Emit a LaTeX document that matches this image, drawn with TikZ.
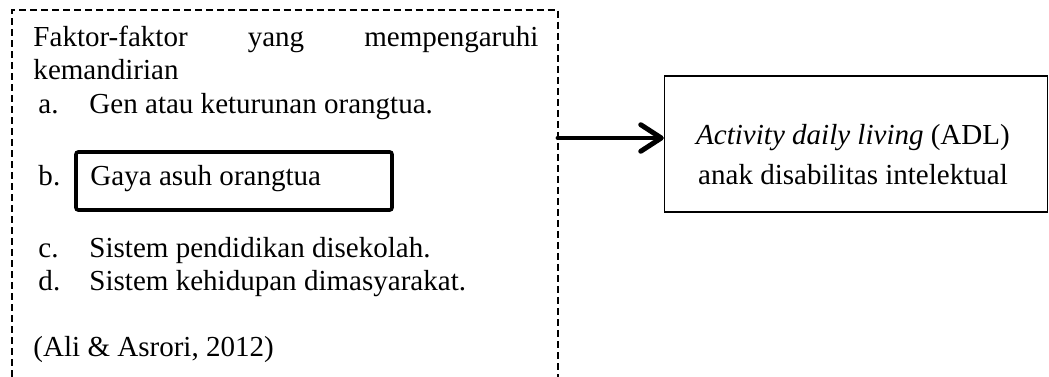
\documentclass[tikz,border=0pt]{standalone}
\usepackage{fontspec}
\setmainfont{Liberation Serif}
\usetikzlibrary{arrows.meta}
\begin{document}
\begin{tikzpicture}[x=0.4133pt,y=-0.4133pt,
  txt/.style={inner sep=0pt,anchor=base west,font=\fontsize{12pt}{14pt}\selectfont},
  ctxt/.style={inner sep=0pt,anchor=base,font=\fontsize{12pt}{14pt}\selectfont},
  dashedframe/.style={line width=0.62pt,dash pattern=on 2.9pt off 1.65pt},
  plainbox/.style={draw,line width=0.6pt,inner sep=0pt},
  boldbox/.style={draw,line width=1.5pt,rounded corners=1pt,inner sep=0pt},
  flow/.style={line width=2.05pt,line cap=round,-{Straight Barb[length=8.5pt,width=11pt,round]}}]
\useasboundingbox (0,0) rectangle (1049,377);

% factor panel: dashed frame, open at the bottom
\draw[dashedframe] (12,377) -- (12,10) -- (558,10) -- (558,377);

\node[txt] (head1) at (33,47)
  {\makebox[208.7pt][s]{Faktor-faktor\hfill yang\hfill mempengaruhi}};
\node[txt] (head2) at (33,80) {kemandirian};

\node[txt] (la) at (38,114) {a.};
\node[txt] (ia) at (89,114) {Gen atau keturunan orangtua.};

\node[boldbox,minimum width=130.6pt,minimum height=24pt] (gaya) at (234,181) {};
\node[txt] (lb) at (38,186) {b.};
\node[txt] (ib) at (90,186) {Gaya asuh orangtua};

\node[txt] (lc) at (38,257) {c.};
\node[txt] (ic) at (89,257) {Sistem pendidikan disekolah.};
\node[txt] (ld) at (38,290) {d.};
\node[txt] (id) at (89,290) {Sistem kehidupan dimasyarakat.};

\node[txt] (src) at (33,356) {(Ali \& Asrori, 2012)};

% outcome box
\node[plainbox,minimum width=158.3pt,minimum height=56.2pt] (adl) at (856,144) {};
\node[ctxt] (adl1) at (853,145) {\textit{Activity daily living} (ADL)};
\node[ctxt] (adl2) at (853,185) {anak disabilitas intelektual};

% connector
\coordinate (out) at (558,138);
\draw[flow] (out) -- (out -| adl.west);
\end{tikzpicture}
\end{document}
